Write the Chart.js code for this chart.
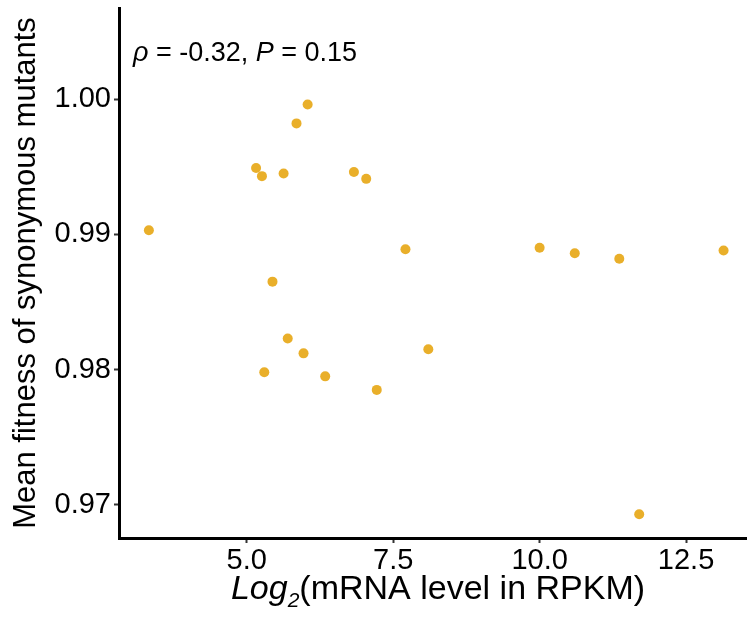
<!DOCTYPE html>
<html>
<head>
<meta charset="utf-8">
<script src="https://cdn.jsdelivr.net/npm/chart.js@4"></script>
<style>
	html, body { margin: 0; padding: 0; background: #fff; }
	#wrap { width: 747px; height: 625px; }
</style>
</head>
<body>
<div id="wrap"><canvas id="fitness_chart"></canvas></div>
<script>
// values
const log2_rpkm = [
	3.33, 5.16, 5.26, 5.63, 5.85, 6.04, 6.83, 7.04, 5.44, 5.70, 5.97,
	5.30, 6.34, 7.22, 7.71, 8.10, 10.00, 10.60, 11.36, 13.14, 11.70,
]
const mean_fitness = [
	0.9903, 0.9949, 0.9943, 0.9945, 0.9982, 0.9996, 0.9946, 0.9941, 0.9865,
	0.9823, 0.9812, 0.9798, 0.9795, 0.9785, 0.9889, 0.9815, 0.9890, 0.9886,
	0.9882, 0.9888, 0.9693,
]
const x_ticks = [5.0, 7.5, 10.0, 12.5]
const y_ticks = [0.97, 0.98, 0.99, 1.0]
const rho_text = '-0.32'
const p_text = '0.15'

const family = '"Liberation Sans", Arial, sans-serif'

const points = log2_rpkm.map((x, i) => ({ x: x, y: mean_fitness[i] }))

// draws text pieces one after another (italic / subscript mixes)
function drawRuns(ctx, runs, x, y, align) {
	let total = 0
	runs.forEach((r) => {
		ctx.font = r.font
		r.w = ctx.measureText(r.text).width
		total += r.w
	})
	let cx = align === 'center' ? x - total / 2 : x
	runs.forEach((r) => {
		ctx.font = r.font
		ctx.fillText(r.text, cx, y + (r.dy || 0))
		cx += r.w
	})
}

const text_plugin = {
	id: 'text_plugin',
	afterDraw(chart) {
		const ctx = chart.ctx
		const area = chart.chartArea
		ctx.save()
		ctx.fillStyle = '#000'
		ctx.textBaseline = 'alphabetic'
		ctx.textAlign = 'left'

		drawRuns(
			ctx,
			[
				{ text: 'Log', font: 'italic 34px ' + family },
				{ text: '2', font: 'italic 21px ' + family, dy: 8 },
				{ text: '(mRNA level in RPKM)', font: '34px ' + family },
			],
			(area.left + area.right) / 2 + 5,
			599,
			'center'
		)

		drawRuns(
			ctx,
			[
				{ text: 'ρ', font: 'italic 27px ' + family },
				{ text: ' = ' + rho_text + ', ', font: '27px ' + family },
				{ text: 'P', font: 'italic 27px ' + family },
				{ text: ' = ' + p_text, font: '27px ' + family },
			],
			area.left + 14,
			area.top + 53,
			'left'
		)
		ctx.restore()
	},
}

// eslint-disable-next-line
const fitness_chart = new Chart(document.getElementById('fitness_chart'), {
	type: 'scatter',
	data: {
		datasets: [
			{
				data: points,
				backgroundColor: '#E9AF2A',
				borderWidth: 0,
				pointRadius: 5,
			},
		],
	},
	options: {
		responsive: true,
		maintainAspectRatio: false,
		animation: false,
		layout: {
			autoPadding: false,
			padding: { top: 8, right: 0, left: 0, bottom: 0 },
		},
		plugins: {
			legend: { display: false },
			tooltip: { enabled: false },
		},
		scales: {
			x: {
				type: 'linear',
				min: 2.82,
				max: 13.54,
				afterBuildTicks: (scale) => {
					scale.ticks = x_ticks.map((v) => ({ value: v }))
				},
				afterFit: (scale) => {
					scale.height = 87
					scale.paddingLeft = 0
					scale.paddingRight = 0
				},
				ticks: {
					autoSkip: false,
					maxRotation: 0,
					color: '#000',
					padding: 1,
					font: { size: 29, family: family },
					callback: (v) => v.toFixed(1),
				},
				grid: {
					drawOnChartArea: false,
					tickLength: 5,
					tickWidth: 2,
					tickColor: '#333',
				},
				border: { color: '#000', width: 3 },
			},
			y: {
				type: 'linear',
				min: 0.96755,
				max: 1.00673,
				afterBuildTicks: (scale) => {
					scale.ticks = y_ticks.map((v) => ({ value: v }))
				},
				afterFit: (scale) => {
					scale.width = 119
					scale.paddingTop = 0
					scale.paddingBottom = 0
				},
				ticks: {
					autoSkip: false,
					color: '#000',
					padding: 3,
					font: { size: 29, family: family },
					callback: (v) => v.toFixed(2),
				},
				grid: {
					drawOnChartArea: false,
					tickLength: 5,
					tickWidth: 2,
					tickColor: '#333',
				},
				border: { color: '#000', width: 3 },
				title: {
					display: true,
					text: 'Mean fitness of synonymous mutants',
					color: '#000',
					font: { size: 31, family: family, lineHeight: 1 },
					padding: { top: 11, bottom: 0 },
				},
			},
		},
	},
	plugins: [text_plugin],
})
</script>
</body>
</html>
